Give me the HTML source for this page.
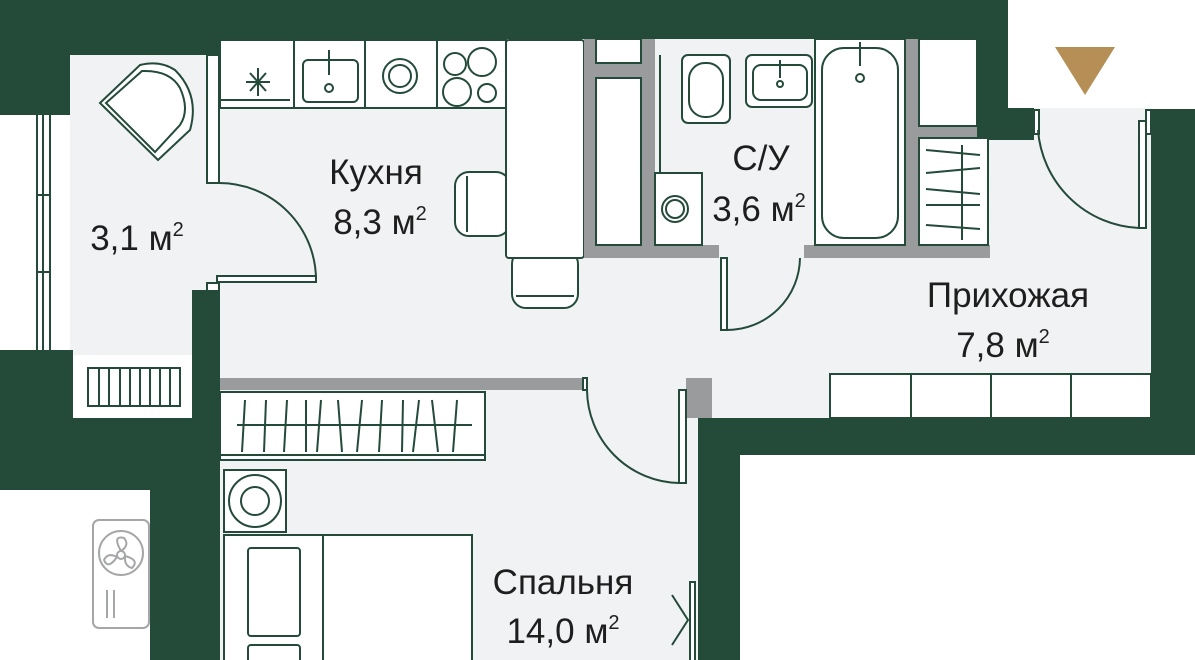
<!DOCTYPE html>
<html><head><meta charset="utf-8"><style>
html,body{margin:0;padding:0;background:#fff;}
svg{display:block}
text{font-family:"Liberation Sans",sans-serif;fill:#1e1e1e;font-size:35px;text-anchor:middle}
tspan.s{font-size:20px}
</style></head><body>
<svg width="1195" height="660" viewBox="0 0 1195 660" xmlns="http://www.w3.org/2000/svg">
<rect width="1195" height="660" fill="#fff"/>
<g fill="#f1f2f4">
<rect x="70" y="55" width="130" height="300"/>
<rect x="200" y="39" width="790" height="380"/>
<rect x="990" y="108" width="162" height="312"/>
<rect x="220" y="380" width="480" height="280"/>
</g>
<g fill="#244a3a">
<rect x="0" y="0" width="1008" height="39"/>
<rect x="0" y="0" width="220" height="55"/>
<rect x="0" y="0" width="70" height="115"/>
<rect x="977" y="0" width="31" height="140"/>
<rect x="1008" y="108" width="26" height="32"/>
<rect x="1151" y="109" width="44" height="345"/>
<rect x="698" y="418" width="497" height="37"/>
<rect x="698" y="418" width="42" height="242"/>
<rect x="192" y="290" width="28" height="370"/>
<rect x="0" y="350" width="73" height="140"/>
<rect x="0" y="418" width="220" height="72"/>
<rect x="150" y="418" width="70" height="242"/>
</g>
<g stroke="#244a3a" stroke-width="2" fill="none">
<line x1="37" y1="115" x2="37" y2="350"/><line x1="43" y1="115" x2="43" y2="350"/><line x1="50" y1="115" x2="50" y2="350"/>
<line x1="37" y1="195" x2="50" y2="195"/><line x1="37" y1="272" x2="50" y2="272"/>
</g>
<rect x="73" y="355" width="117" height="63" fill="#fff"/>
<g stroke="#244a3a" stroke-width="2" fill="none">
<rect x="88" y="368" width="92" height="38"/>
<line x1="99" y1="368" x2="99" y2="406"/><line x1="109" y1="368" x2="109" y2="406"/><line x1="120" y1="368" x2="120" y2="406"/><line x1="130" y1="368" x2="130" y2="406"/><line x1="140" y1="368" x2="140" y2="406"/><line x1="150" y1="368" x2="150" y2="406"/><line x1="160" y1="368" x2="160" y2="406"/><line x1="170" y1="368" x2="170" y2="406"/>
</g>
<g stroke="#244a3a" stroke-width="2" fill="#fff">
<path d="M100 103 L140 65 Q160 60 175 70 Q200 95 190 130 L158 160 Z"/>
<path d="M106 103 L142 71 Q170 70 180 88 Q190 110 180 125 L155 152 Z"/>
</g>
<g stroke="#244a3a" stroke-width="2" fill="none">
<rect x="207" y="55" width="12" height="128" fill="#fff"/>
<path d="M219 183 A97 97 0 0 1 316 280"/>
<rect x="217" y="276" width="99" height="6" fill="#fff"/>
<rect x="207" y="283" width="12" height="8" fill="#fff"/>
</g>
<g stroke="#244a3a" stroke-width="2" fill="#fff">
<rect x="220" y="40" width="286" height="68"/>
<line x1="294" y1="40" x2="294" y2="108"/><line x1="365" y1="40" x2="365" y2="108"/><line x1="437" y1="40" x2="437" y2="108"/>
<line x1="220" y1="100" x2="290" y2="100"/>
<rect x="303" y="60" width="55" height="42" rx="5"/>
<line x1="329" y1="50" x2="329" y2="75"/><circle cx="329" cy="88" r="4"/>
<circle cx="400" cy="76" r="17"/><circle cx="400" cy="76" r="11"/>
<circle cx="455" cy="64" r="11"/><circle cx="482" cy="62" r="14"/><circle cx="457" cy="92" r="14"/><circle cx="487" cy="93" r="9"/>
</g>
<g stroke="#244a3a" stroke-width="2">
<line x1="246" y1="82" x2="270" y2="82"/><line x1="258" y1="68" x2="258" y2="96"/><line x1="250" y1="73" x2="266" y2="91"/><line x1="266" y1="73" x2="250" y2="91"/>
</g>
<g stroke="#244a3a" stroke-width="2" fill="#fff">
<rect x="455" y="172" width="55" height="64" rx="14"/>
<rect x="512" y="250" width="66" height="58" rx="14"/>
<rect x="506" y="40" width="78" height="218" rx="3"/>
<line x1="467" y1="176" x2="467" y2="232"/>
<line x1="516" y1="296" x2="574" y2="296"/>
</g>
<g fill="#9a9b9d">
<rect x="584" y="39" width="12" height="219"/>
<rect x="641" y="39" width="14" height="219"/>
<rect x="596" y="63" width="45" height="15"/>
<rect x="584" y="245" width="135" height="13"/>
<rect x="804" y="245" width="186" height="13"/>
<rect x="905" y="39" width="14" height="219"/>
<rect x="919" y="126" width="58" height="12"/>
<rect x="220" y="378" width="365" height="12"/>
<rect x="686" y="378" width="26" height="40"/>
</g>
<g stroke="#244a3a" stroke-width="2" fill="#fff">
<rect x="596" y="39" width="45" height="24"/>
<rect x="596" y="78" width="45" height="167"/>
<rect x="919" y="39" width="58" height="87"/>
<rect x="919" y="138" width="69" height="107"/>
<rect x="815" y="39" width="90" height="206"/>
<rect x="822" y="48" width="76" height="190" rx="22"/>
<line x1="860" y1="42" x2="860" y2="66"/><circle cx="860" cy="78" r="4"/>
<rect x="682" y="55" width="48" height="68" rx="6"/>
<rect x="689" y="63" width="34" height="54" rx="16"/>
<rect x="746" y="55" width="66" height="52" rx="6"/>
<rect x="753" y="65" width="54" height="35" rx="8"/>
<line x1="780" y1="60" x2="780" y2="78"/><circle cx="780" cy="84" r="3"/>
<rect x="655" y="173" width="47" height="72"/>
<circle cx="675" cy="209" r="13"/><circle cx="675" cy="209" r="9"/>
<line x1="660" y1="55" x2="660" y2="173"/>
</g>
<g stroke="#244a3a" stroke-width="2">
<line x1="962" y1="145" x2="962" y2="240"/>
<line x1="926" y1="150" x2="980" y2="155"/><line x1="926" y1="173" x2="980" y2="168"/><line x1="926" y1="189" x2="980" y2="194"/><line x1="926" y1="205" x2="980" y2="205"/><line x1="926" y1="225" x2="980" y2="229"/>
</g>
<g stroke="#244a3a" stroke-width="2" fill="none">
<rect x="721" y="258" width="6" height="72" fill="#fff"/>
<path d="M727 330 A73 73 0 0 0 800 258"/>
</g>
<polygon points="1055,47 1115,47 1085,95" fill="#b58f55"/>
<g stroke="#244a3a" stroke-width="2" fill="none">
<rect x="1034" y="110" width="5" height="24" fill="#fff"/>
<rect x="1146" y="110" width="5" height="24" fill="#fff"/>
<rect x="1139" y="121" width="7" height="107" fill="#fff"/>
<path d="M1038 130 A106 106 0 0 0 1139 228"/>
</g>
<g stroke="#244a3a" stroke-width="2" fill="#fff">
<rect x="830" y="374" width="321" height="44"/>
<line x1="911" y1="374" x2="911" y2="418"/><line x1="991" y1="374" x2="991" y2="418"/><line x1="1071" y1="374" x2="1071" y2="418"/>
</g>
<g stroke="#244a3a" stroke-width="2" fill="none">
<rect x="583" y="378" width="4" height="12" fill="#fff"/>
<rect x="679" y="390" width="7" height="93" fill="#fff"/>
<path d="M587 390 A94 94 0 0 0 679 483"/>
</g>
<g stroke="#244a3a" stroke-width="2" fill="#fff">
<rect x="220" y="392" width="265" height="68"/>
<line x1="220" y1="455" x2="485" y2="455"/>
</g>
<g stroke="#244a3a" stroke-width="2">
<line x1="237" y1="425" x2="472" y2="425"/>
<line x1="245" y1="400" x2="242" y2="452"/><line x1="266" y1="400" x2="264" y2="452"/><line x1="287" y1="400" x2="284" y2="452"/><line x1="306" y1="400" x2="306" y2="452"/><line x1="321" y1="400" x2="317" y2="452"/><line x1="338" y1="400" x2="342" y2="452"/><line x1="362" y1="400" x2="357" y2="452"/><line x1="382" y1="400" x2="379" y2="452"/><line x1="403" y1="400" x2="402" y2="452"/><line x1="419" y1="400" x2="413" y2="452"/><line x1="432" y1="400" x2="438" y2="452"/><line x1="457" y1="400" x2="453" y2="452"/>
</g>
<g stroke="#244a3a" stroke-width="2" fill="#fff">
<rect x="224" y="470" width="62" height="62"/>
<circle cx="255" cy="501" r="26"/><circle cx="255" cy="501" r="14"/>
<rect x="224" y="535" width="248" height="130"/>
<line x1="323" y1="535" x2="323" y2="660"/>
<rect x="248" y="548" width="52" height="88" rx="3"/>
<rect x="248" y="645" width="52" height="30" rx="3"/>
</g>
<g stroke="#244a3a" stroke-width="2" fill="none">
<rect x="690" y="582" width="5" height="80" fill="#fff"/>
<polyline points="672,595 688,620 672,645"/>
</g>
<g stroke="#a5a6a8" stroke-width="2" fill="#fff">
<rect x="93" y="520" width="56" height="108" rx="6"/>
<circle cx="121" cy="553" r="22"/><circle cx="121" cy="555" r="4"/>
<path d="M121 551 Q112 535 124 538 Q130 545 121 551 M125 556 Q140 560 132 568 Q124 566 125 556 M117 557 Q108 570 104 560 Q108 552 117 557"/>
<line x1="107" y1="590" x2="107" y2="618"/><line x1="114" y1="590" x2="114" y2="618"/>
</g>
<text x="376" y="184">Кухня</text>
<text x="380" y="234">8,3 м<tspan class="s" dy="-14">2</tspan></text>
<text x="137" y="250">3,1 м<tspan class="s" dy="-14">2</tspan></text>
<text x="761" y="170">С/У</text>
<text x="759" y="221">3,6 м<tspan class="s" dy="-14">2</tspan></text>
<text x="1008" y="307">Прихожая</text>
<text x="1003" y="357">7,8 м<tspan class="s" dy="-14">2</tspan></text>
<text x="563" y="594">Спальня</text>
<text x="563" y="643">14,0 м<tspan class="s" dy="-14">2</tspan></text>
</svg>
</body></html>
